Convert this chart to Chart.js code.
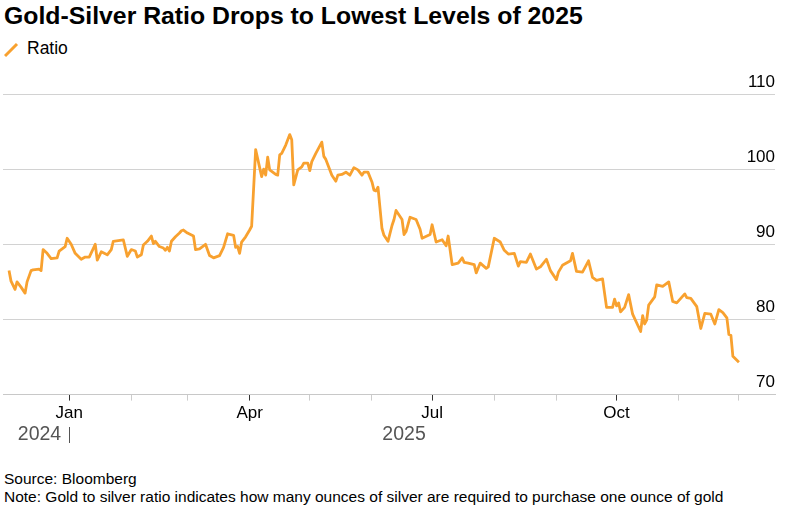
<!DOCTYPE html>
<html>
<head>
<meta charset="utf-8">
<script src="https://cdn.jsdelivr.net/npm/chart.js@4.4.1/dist/chart.umd.min.js"></script>
<style>
  body { margin:0; width:797px; height:511px; background:#fff; position:relative; overflow:hidden;
         font-family:"Liberation Sans", Arial, sans-serif; color:#000; }
  #titulo { position:absolute; left:4px; top:4px; font-size:24.8px; font-weight:bold; line-height:1; white-space:nowrap; }
  #leyenda { position:absolute; left:4px; top:40px; font-size:17.5px; line-height:1; white-space:nowrap; }
  #leyenda svg { position:absolute; left:0; top:2px; }
  #leyenda span { position:absolute; left:23px; top:0; }
  #fuente { position:absolute; left:4px; top:470px; font-size:15.5px; line-height:18px; white-space:nowrap; }
  #lienzo { position:absolute; left:0; top:0; width:797px; height:511px; }
</style>
</head>
<body>
<div id="titulo">Gold-Silver Ratio Drops to Lowest Levels of 2025</div>
<div id="leyenda">
  <svg width="16" height="16"><line x1="1" y1="14" x2="13" y2="2" stroke="#f8a12f" stroke-width="3"/></svg>
  <span>Ratio</span>
</div>
<div id="fuente">Source: Bloomberg<br>Note: Gold to silver ratio indicates how many ounces of silver are required to purchase one ounce of gold</div>
<div id="lienzo"><canvas id="grafica"></canvas></div>
<script>
const fechas = [
  "2024-12-02","2024-12-03","2024-12-05","2024-12-06","2024-12-08","2024-12-10","2024-12-11","2024-12-13","2024-12-14","2024-12-17",
  "2024-12-18","2024-12-19","2024-12-21","2024-12-23","2024-12-26","2024-12-27","2024-12-30","2024-12-31",
  "2025-01-02","2025-01-04","2025-01-07","2025-01-09","2025-01-11","2025-01-14","2025-01-15","2025-01-17","2025-01-20","2025-01-22",
  "2025-01-23","2025-01-28","2025-01-30",
  "2025-02-01","2025-02-03","2025-02-04","2025-02-06","2025-02-07","2025-02-09","2025-02-11","2025-02-12","2025-02-13","2025-02-15",
  "2025-02-17","2025-02-18","2025-02-19","2025-02-20","2025-02-21","2025-02-23","2025-02-25","2025-02-26","2025-02-27",
  "2025-03-01","2025-03-04","2025-03-05","2025-03-07","2025-03-10","2025-03-12","2025-03-14","2025-03-17","2025-03-19","2025-03-21",
  "2025-03-24","2025-03-25","2025-03-26","2025-03-27","2025-03-28","2025-03-30",
  "2025-04-01","2025-04-02","2025-04-04","2025-04-05","2025-04-07","2025-04-08","2025-04-09","2025-04-10","2025-04-11","2025-04-14",
  "2025-04-15","2025-04-16","2025-04-17","2025-04-19","2025-04-21","2025-04-22","2025-04-23","2025-04-25","2025-04-27","2025-04-28",
  "2025-04-30",
  "2025-05-01","2025-05-02","2025-05-04","2025-05-07","2025-05-08","2025-05-09","2025-05-12","2025-05-14","2025-05-15","2025-05-17",
  "2025-05-19","2025-05-21","2025-05-23","2025-05-25","2025-05-27","2025-05-28","2025-05-30",
  "2025-06-01","2025-06-02","2025-06-03","2025-06-04","2025-06-06","2025-06-07","2025-06-09","2025-06-11","2025-06-12","2025-06-13",
  "2025-06-16","2025-06-17","2025-06-18","2025-06-20","2025-06-23","2025-06-25","2025-06-26","2025-06-30",
  "2025-07-01","2025-07-03","2025-07-06","2025-07-08","2025-07-09","2025-07-11","2025-07-14","2025-07-16","2025-07-17","2025-07-19",
  "2025-07-22","2025-07-23","2025-07-25","2025-07-28","2025-07-29",
  "2025-08-01","2025-08-04","2025-08-06","2025-08-08","2025-08-11","2025-08-13","2025-08-14","2025-08-17","2025-08-19","2025-08-22",
  "2025-08-24","2025-08-27","2025-08-29",
  "2025-09-01","2025-09-02","2025-09-04","2025-09-08","2025-09-09","2025-09-11","2025-09-14","2025-09-17","2025-09-19","2025-09-21",
  "2025-09-24","2025-09-26","2025-09-29","2025-09-30",
  "2025-10-01","2025-10-02","2025-10-03","2025-10-05","2025-10-07","2025-10-09","2025-10-13","2025-10-14","2025-10-15","2025-10-16",
  "2025-10-17","2025-10-20","2025-10-21","2025-10-24","2025-10-27","2025-10-29","2025-10-31",
  "2025-11-04","2025-11-05","2025-11-07","2025-11-10","2025-11-12","2025-11-14","2025-11-17","2025-11-19","2025-11-21","2025-11-23",
  "2025-11-25","2025-11-26","2025-11-27","2025-11-28",
  "2025-12-01"
];

const ratio = [
  86.5,85.1,84.0,85.0,84.3,83.5,85.0,86.5,86.6,86.7,
  86.5,89.3,88.8,88.1,88.2,89.1,89.7,90.8,
  90.0,88.8,88.0,88.3,88.3,90.0,87.9,89.0,88.6,89.3,
  90.4,90.6,88.4,
  89.3,89.1,88.3,88.6,89.9,90.4,91.1,90.1,90.4,89.7,
  89.5,89.2,89.6,89.1,90.4,91.0,91.5,91.8,91.9,
  91.5,91.1,89.3,89.4,90.0,88.5,88.2,88.5,89.6,91.4,
  91.2,89.6,89.7,88.8,90.3,91.0,
  91.9,92.4,102.6,101.4,99.0,100.0,99.2,101.6,99.9,99.3,
  99.2,101.9,102.1,103.2,104.6,103.9,97.9,99.9,100.3,100.8,
  100.8,
  99.8,101.0,102.1,103.6,101.7,101.3,99.2,98.4,99.2,99.3,
  99.6,99.2,100.2,99.9,99.2,99.6,99.6,
  98.3,97.2,97.1,97.6,92.1,91.2,90.4,92.5,93.3,94.5,
  93.3,91.3,91.7,93.6,93.3,92.0,90.8,91.3,
  92.6,90.3,90.6,89.8,91.1,87.3,87.5,88.2,87.6,87.5,
  87.3,86.2,87.5,86.8,87.0,
  90.8,90.3,89.2,88.7,88.8,87.1,87.7,87.6,88.7,86.7,
  87.0,88.0,86.5,
  85.3,86.3,87.2,87.8,88.8,86.4,86.3,87.8,85.6,85.2,
  85.4,81.6,81.6,82.7,
  81.8,82.2,81.0,81.6,83.3,80.7,78.4,80.5,79.4,79.9,
  81.9,83.0,84.6,84.4,85.0,82.4,82.2,
  83.4,82.9,82.8,81.7,78.8,80.8,80.7,79.4,81.3,80.9,
  80.2,78.0,77.9,75.1,
  74.3
];

// ticks del eje x: inicio de cada mes
const mesesTicks = ["2025-01-01","2025-02-01","2025-03-01","2025-04-01","2025-05-01","2025-06-01",
                    "2025-07-01","2025-08-01","2025-09-01","2025-10-01","2025-11-01","2025-12-01"];
const etiquetasMes = ["Jan","","","Apr","","","Jul","","","Oct","",""];
const anios = ["2024","2025"];

const base = Date.UTC(2025, 0, 1);
const dia = s => (Date.parse(s) - base) / 864e5;

const puntos = fechas.map((f, i) => ({ x: dia(f), y: ratio[i] }));

// etiquetas de año debajo de los meses
const pluginAnios = {
  id: "anios",
  afterDraw(chart) {
    const c = chart.ctx;
    const x = chart.scales.x;
    const xEne = x.getPixelForValue(dia(mesesTicks[0]));
    const xFin = x.getPixelForValue(dia(fechas[fechas.length - 1]));
    c.save();
    c.font = "19.5px 'Liberation Sans', Arial, sans-serif";
    c.fillStyle = "#555";
    c.textBaseline = "middle";
    c.textAlign = "right";
    c.fillText(anios[0], xEne - 8, 435);
    c.textAlign = "center";
    c.fillText(anios[1], (xEne + xFin) / 2, 435);
    c.strokeStyle = "#555";
    c.lineWidth = 1;
    c.beginPath();
    c.moveTo(Math.round(xEne) + 0.5, 427);
    c.lineTo(Math.round(xEne) + 0.5, 443);
    c.stroke();
    c.restore();
  }
};

const ctx = document.getElementById("grafica").getContext("2d");

const grafica = new Chart(ctx, {
  type: "line",
  data: {
    datasets: [{
      label: "Ratio",
      data: puntos,
      borderColor: "#f8a12f",
      borderWidth: 2.8,
      pointRadius: 0,
      tension: 0,
      borderJoinStyle: "round"
    }]
  },
  options: {
    responsive: true,
    maintainAspectRatio: false,
    animation: false,
    layout: { padding: { left: 3, right: 22, top: 94, bottom: 84 } },
    plugins: { legend: { display: false }, tooltip: { enabled: false } },
    scales: {
      x: {
        type: "linear",
        min: -33,
        max: 352,
        afterBuildTicks: s => { s.ticks = mesesTicks.map(d => ({ value: dia(d) })); },
        ticks: {
          autoSkip: false,
          maxRotation: 0,
          padding: 3,
          color: "#000",
          font: { size: 17, family: "'Liberation Sans', Arial, sans-serif" },
          callback: (v, i) => etiquetasMes[i]
        },
        grid: {
          drawOnChartArea: false,
          tickLength: 6,
          tickColor: c => etiquetasMes[c.index] ? "#333" : "#ccc"
        },
        border: { display: true, color: "#c8c8c8" }
      },
      y: {
        position: "right",
        min: 70,
        max: 110,
        ticks: {
          stepSize: 10,
          mirror: true,
          padding: 0,
          labelOffset: -12,
          color: "#000",
          font: { size: 17, family: "'Liberation Sans', Arial, sans-serif" }
        },
        grid: { color: "#d2d2d2", drawTicks: false },
        border: { display: false }
      }
    }
  },
  plugins: [pluginAnios]
});
</script>
</body>
</html>
